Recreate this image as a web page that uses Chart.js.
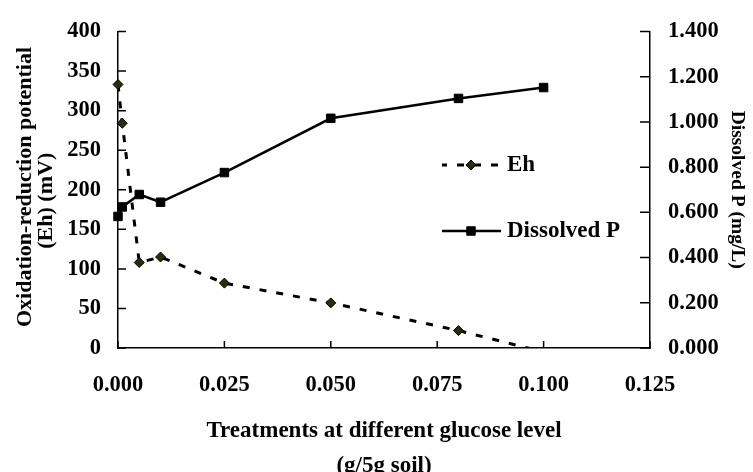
<!DOCTYPE html>
<html>
<head>
<meta charset="utf-8">
<script src="https://cdn.jsdelivr.net/npm/chart.js@4.4.0/dist/chart.umd.min.js"></script>
<style>
  html, body { margin: 0; padding: 0; background: #fff; }
</style>
</head>
<body>
<canvas id="myChart" width="753" height="472"></canvas>
<script>
// glucose level (g/5g soil)
var glucose = [0, 0.001, 0.005, 0.01, 0.025, 0.05, 0.08, 0.1];
// Eh (mV) - left axis
var ehValues = [333, 284, 108, 115, 82, 57, 22, -5];
// Dissolved P (mg/L) - right axis
var pValues = [0.582, 0.624, 0.679, 0.645, 0.776, 1.016, 1.104, 1.152];

var serif = "'Liberation Serif', 'Times New Roman', serif";

function pts(vals) {
  return glucose.map(function (x, i) { return {x: x, y: vals[i]}; });
}

// tick marks pointing into the plot
var innerTicks = {
  id: 'innerTicks',
  beforeDatasetsDraw: function (chart) {
    var ctx = chart.ctx, a = chart.chartArea;
    ctx.save();
    ctx.strokeStyle = '#000';
    ctx.lineWidth = 1.5;
    ctx.beginPath();
    chart.scales.x.ticks.forEach(function (t) {
      var px = chart.scales.x.getPixelForValue(t.value);
      ctx.moveTo(px, a.bottom); ctx.lineTo(px, a.bottom - 7);
    });
    chart.scales.y.ticks.forEach(function (t) {
      var py = chart.scales.y.getPixelForValue(t.value);
      ctx.moveTo(a.left, py); ctx.lineTo(a.left + 8, py);
    });
    chart.scales.y1.ticks.forEach(function (t) {
      var py = chart.scales.y1.getPixelForValue(t.value);
      ctx.moveTo(a.right, py); ctx.lineTo(a.right - 10, py);
    });
    ctx.stroke();
    ctx.restore();
  }
};

// legend inside the plot
var innerLegend = {
  id: 'innerLegend',
  afterDraw: function (chart) {
    var ctx = chart.ctx;
    var rows = [165, 231];
    chart.data.datasets.forEach(function (ds, i) {
      var y = rows[i];
      ctx.save();
      ctx.strokeStyle = ds.borderColor;
      ctx.lineWidth = ds.borderWidth;
      ctx.setLineDash(ds.borderDash || []);
      ctx.lineDashOffset = 2;
      ctx.beginPath();
      ctx.moveTo(442, y); ctx.lineTo(501, y);
      ctx.stroke();
      ctx.setLineDash([]);
      var r = ds.pointRadius;
      ctx.fillStyle = ds.pointBackgroundColor;
      ctx.strokeStyle = ds.pointBorderColor;
      ctx.lineWidth = ds.pointBorderWidth;
      ctx.beginPath();
      if (ds.pointStyle === 'rectRot') {
        ctx.moveTo(471, y - r); ctx.lineTo(471 + r, y);
        ctx.lineTo(471, y + r); ctx.lineTo(471 - r, y);
        ctx.closePath();
      } else {
        var h = r * Math.SQRT1_2;
        ctx.rect(471 - h, y - h, 2 * h, 2 * h);
      }
      ctx.fill();
      ctx.stroke();
      ctx.fillStyle = '#000';
      ctx.font = 'bold 23px ' + serif;
      ctx.textBaseline = 'middle';
      ctx.textAlign = 'left';
      ctx.fillText(ds.label, 507, y);
      ctx.restore();
    });
  }
};

new Chart("myChart", {
  type: "line",
  data: {
    datasets: [{
      label: "Eh",
      data: pts(ehValues),
      yAxisID: "y",
      borderColor: "#000",
      borderWidth: 3,
      borderDash: [7, 10],
      pointStyle: "rectRot",
      pointRadius: 5,
      pointBackgroundColor: "#2b2b0e",
      pointBorderColor: "#000",
      pointBorderWidth: 1,
      tension: 0,
      clip: {left: 10, top: 10, right: 10, bottom: 0}
    }, {
      label: "Dissolved P",
      data: pts(pValues),
      yAxisID: "y1",
      borderColor: "#000",
      borderWidth: 2.5,
      pointStyle: "rect",
      pointRadius: 6,
      pointBackgroundColor: "#000",
      pointBorderColor: "#000",
      pointBorderWidth: 1,
      tension: 0,
      clip: 10
    }]
  },
  options: {
    responsive: false,
    animation: false,
    events: [],
    layout: {padding: {top: 21, left: 0, right: 0, bottom: 0}},
    plugins: {
      legend: {display: false},
      tooltip: {enabled: false}
    },
    scales: {
      x: {
        type: "linear",
        min: 0,
        max: 0.125,
        afterFit: function (s) { s.height = 124; },
        grid: {drawOnChartArea: false, drawTicks: false},
        border: {display: true, color: "#000", width: 1.5},
        ticks: {
          stepSize: 0.025,
          padding: 24,
          color: "#000",
          font: {family: serif, size: 22.5, weight: "bold"},
          callback: function (v) { return v.toFixed(3); }
        },
        title: {
          display: true,
          text: ["Treatments at different glucose level", "(g/5g soil)"],
          color: "#000",
          font: {family: serif, size: 23, weight: "bold", lineHeight: 1.52},
          padding: {top: 0, bottom: -11.5}
        }
      },
      y: {
        position: "left",
        min: 0,
        max: 400,
        afterFit: function (s) { s.width = 118; },
        grid: {drawOnChartArea: false, drawTicks: false},
        border: {display: true, color: "#000", width: 1.5},
        ticks: {
          stepSize: 50,
          padding: 17,
          color: "#000",
          font: {family: serif, size: 22.5, weight: "bold"}
        },
        title: {
          display: true,
          text: [" Oxidation-reduction potential", "(Eh) (mV)    "],
          color: "#000",
          font: {family: serif, size: 22, weight: "bold", lineHeight: 0.955},
          padding: {top: 15, bottom: 0}
        }
      },
      y1: {
        position: "right",
        min: 0,
        max: 1.4,
        afterFit: function (s) { s.width = 103; },
        grid: {drawOnChartArea: false, drawTicks: false},
        border: {display: true, color: "#000", width: 1.5},
        ticks: {
          stepSize: 0.2,
          padding: 18,
          color: "#000",
          font: {family: serif, size: 22.5, weight: "bold"},
          callback: function (v) { return v.toFixed(3); }
        },
        title: {
          display: true,
          text: "Dissolved P (mg/L)",
          color: "#000",
          font: {family: serif, size: 19.5, weight: "bold", lineHeight: 1.2},
          padding: {top: 4, bottom: 0}
        }
      }
    }
  },
  plugins: [innerTicks, innerLegend]
});
</script>
</body>
</html>
